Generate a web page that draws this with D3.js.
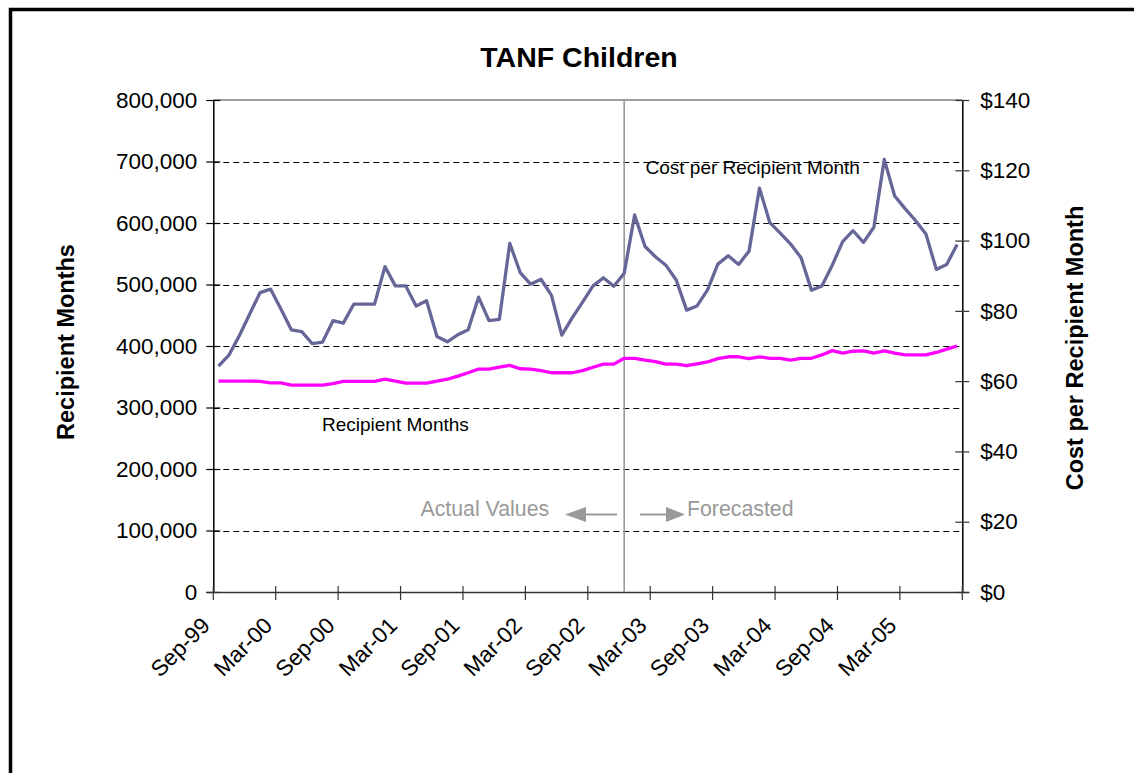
<!DOCTYPE html>
<html>
<head>
<meta charset="utf-8">
<script src="https://cdn.jsdelivr.net/npm/d3@7"></script>
<style>
  html, body { margin: 0; padding: 0; background: #fff; }
  svg { display: block; font-family: Arial, "Liberation Sans", sans-serif; }
</style>
</head>
<body>
<svg id="chart" width="1134" height="773"></svg>
<script>
// Monthly categories, Sep-99 through Aug-05
const months = [
  "Sep-99","Oct-99","Nov-99","Dec-99","Jan-00","Feb-00","Mar-00","Apr-00","May-00","Jun-00","Jul-00","Aug-00",
  "Sep-00","Oct-00","Nov-00","Dec-00","Jan-01","Feb-01","Mar-01","Apr-01","May-01","Jun-01","Jul-01","Aug-01",
  "Sep-01","Oct-01","Nov-01","Dec-01","Jan-02","Feb-02","Mar-02","Apr-02","May-02","Jun-02","Jul-02","Aug-02",
  "Sep-02","Oct-02","Nov-02","Dec-02","Jan-03","Feb-03","Mar-03","Apr-03","May-03","Jun-03","Jul-03","Aug-03",
  "Sep-03","Oct-03","Nov-03","Dec-03","Jan-04","Feb-04","Mar-04","Apr-04","May-04","Jun-04","Jul-04","Aug-04",
  "Sep-04","Oct-04","Nov-04","Dec-04","Jan-05","Feb-05","Mar-05","Apr-05","May-05","Jun-05","Jul-05","Aug-05"
];

// Recipient months (left axis)
const recipientMonths = [
  343000, 343000, 343000, 343000, 342500, 340000, 340000, 336500, 336500, 336500, 336500, 339000,
  342500, 342500, 342500, 342500, 346000, 343000, 339500, 339500, 339500, 343000, 346000, 351000,
  356500, 362500, 362500, 365500, 368500, 363000, 362500, 360000, 356500, 356500, 356500, 360000,
  365500, 370500, 370500, 380000, 380000, 377000, 374500, 370500, 370500, 368000, 371000, 374000,
  379500, 382500, 382500, 379500, 382500, 380000, 380000, 377000, 380000, 380000, 385500, 392500,
  388500, 391500, 392000, 388500, 392000, 388500, 385500, 385500, 385500, 389500, 395000, 400000
];

// Cost per recipient month in dollars (right axis)
const costPerMonth = [
  64.3, 67.4, 72.9, 79.1, 85.2, 86.2, 80.5, 74.6, 74.1, 70.7, 71.1, 77.2,
  76.5, 81.9, 81.9, 81.9, 92.6, 87.1, 87.1, 81.4, 82.9, 72.7, 71.2, 73.2,
  74.6, 83.9, 77.2, 77.6, 99.2, 90.9, 87.6, 89.0, 84.5, 73.1, 78.0, 82.5,
  87.1, 89.4, 87.0, 90.7, 107.3, 98.3, 95.4, 93.0, 88.8, 80.2, 81.4, 85.9,
  93.3, 95.7, 93.2, 97.0, 114.9, 105.1, 102.1, 99.0, 95.1, 85.9, 87.1, 93.0,
  99.7, 102.8, 99.5, 103.8, 123.1, 112.7, 109.1, 105.7, 101.9, 91.8, 93.2, 98.9
];

const leftTicks = [0, 100000, 200000, 300000, 400000, 500000, 600000, 700000, 800000];
const rightTicks = [0, 20, 40, 60, 80, 100, 120, 140];
const xTickLabels = ["Sep-99","Mar-00","Sep-00","Mar-01","Sep-01","Mar-02","Sep-02","Mar-03","Sep-03","Mar-04","Sep-04","Mar-05"];
const lastActualMonth = "Dec-02";

const svg = d3.select("#chart");
const plot = { left: 213.3, right: 962.3, top: 100, bottom: 592 };

const x = d3.scaleBand().domain(months).range([plot.left, plot.right]).paddingInner(0).paddingOuter(0);
const cx = m => x(m) + x.bandwidth() / 2;
const yL = d3.scaleLinear().domain([0, 800000]).range([plot.bottom, plot.top]);
const yR = d3.scaleLinear().domain([0, 140]).range([plot.bottom, plot.top]);

// Outer frame (top and left edges)
svg.append("path")
  .attr("d", `M10.5,773 V9.5 H1134`)
  .attr("fill", "none").attr("stroke", "#000").attr("stroke-width", 3.5);

// Title
svg.append("text").attr("x", 579).attr("y", 67)
  .attr("text-anchor", "middle").attr("font-weight", "bold").attr("font-size", 28.5)
  .text("TANF Children");

// Dashed gridlines
svg.append("g").selectAll("line")
  .data(leftTicks.filter(d => d > 0 && d < 800000))
  .join("line")
  .attr("x1", plot.left).attr("x2", plot.right)
  .attr("y1", d => Math.round(yL(d)) + 0.5).attr("y2", d => Math.round(yL(d)) + 0.5)
  .attr("stroke", "#000").attr("stroke-width", 1).attr("stroke-dasharray", "6,4");

// Plot top border
svg.append("line")
  .attr("x1", plot.left).attr("x2", plot.right)
  .attr("y1", plot.top).attr("y2", plot.top)
  .attr("stroke", "#808080").attr("stroke-width", 1.5);

// Left axis
const leftAxis = d3.axisLeft(yL).tickValues(leftTicks).tickFormat(d3.format(",")).tickSize(0).tickPadding(16);
const gL = svg.append("g").attr("transform", `translate(${plot.left},0)`).call(leftAxis);
gL.select(".domain").attr("stroke", "#000").attr("stroke-width", 1.5);
gL.selectAll(".tick text").attr("font-size", 22.5).attr("fill", "#000").attr("font-family", "Arial, 'Liberation Sans', sans-serif");
gL.selectAll(".tick").append("line").attr("x1", -7).attr("x2", 7).attr("stroke", "#000").attr("stroke-width", 1.2);

// Right axis
const rightAxis = d3.axisRight(yR).tickValues(rightTicks).tickFormat(d => "$" + d).tickSize(0).tickPadding(18);
const gR = svg.append("g").attr("transform", `translate(${plot.right},0)`).call(rightAxis);
gR.select(".domain").attr("stroke", "#000").attr("stroke-width", 1.5);
gR.selectAll(".tick text").attr("font-size", 22.5).attr("fill", "#000").attr("font-family", "Arial, 'Liberation Sans', sans-serif");
gR.selectAll(".tick").append("line").attr("x1", -7).attr("x2", 7).attr("stroke", "#333").attr("stroke-width", 1.2);

// Bottom axis with ticks every six months
const tickMonths = months.filter((m, i) => i % 6 === 0);
const gX = svg.append("g");
gX.append("line")
  .attr("x1", plot.left - 7).attr("x2", plot.right + 7)
  .attr("y1", plot.bottom + 0.5).attr("y2", plot.bottom + 0.5)
  .attr("stroke", "#333").attr("stroke-width", 1.5);
gX.selectAll("line.tk").data(tickMonths.concat(["__end"]))
  .join("line").attr("class", "tk")
  .attr("x1", d => d === "__end" ? plot.right : x(d))
  .attr("x2", d => d === "__end" ? plot.right : x(d))
  .attr("y1", plot.bottom - 6).attr("y2", plot.bottom + 8)
  .attr("stroke", "#333").attr("stroke-width", 1.2);
gX.selectAll("text").data(xTickLabels)
  .join("text")
  .attr("transform", d => `translate(${x(d) - 2},${627}) rotate(-45)`)
  .attr("text-anchor", "end").attr("font-size", 22.5)
  .text(d => d);

// Divider between actual and forecasted values
const xDiv = cx(lastActualMonth);
svg.append("line")
  .attr("x1", xDiv).attr("x2", xDiv).attr("y1", plot.top).attr("y2", plot.bottom)
  .attr("stroke", "#999").attr("stroke-width", 1.6);

// Series lines
const costLine = d3.line().x((d, i) => cx(months[i])).y(d => yR(d));
const recipLine = d3.line().x((d, i) => cx(months[i])).y(d => yL(d));

svg.append("path").datum(recipientMonths)
  .attr("d", recipLine).attr("fill", "none")
  .attr("stroke", "#FF00FF").attr("stroke-width", 3.3).attr("stroke-linejoin", "round");

svg.append("path").datum(costPerMonth)
  .attr("d", costLine).attr("fill", "none")
  .attr("stroke", "#666699").attr("stroke-width", 3.3).attr("stroke-linejoin", "round");

// Axis titles
svg.append("text")
  .attr("transform", "translate(74,342) rotate(-90)")
  .attr("text-anchor", "middle").attr("font-weight", "bold").attr("font-size", 23.5)
  .text("Recipient Months");
svg.append("text")
  .attr("transform", "translate(1083,348) rotate(-90)")
  .attr("text-anchor", "middle").attr("font-weight", "bold").attr("font-size", 23.5)
  .text("Cost per Recipient Month");

// Series labels
svg.append("text").attr("x", 645.5).attr("y", 174).attr("font-size", 19).text("Cost per Recipient Month");
svg.append("text").attr("x", 322).attr("y", 431).attr("font-size", 19).text("Recipient Months");

// Actual / forecast markers
const gray = "#999999";
svg.append("text").attr("x", 420.5).attr("y", 516).attr("font-size", 21.3).attr("fill", gray).text("Actual Values");
svg.append("text").attr("x", 687).attr("y", 516).attr("font-size", 21.3).attr("fill", gray).text("Forecasted");

const arrowY = 514.5;
svg.append("line").attr("x1", 584).attr("x2", 617).attr("y1", arrowY).attr("y2", arrowY)
  .attr("stroke", gray).attr("stroke-width", 2);
svg.append("path").attr("d", `M565,${arrowY} L586,${arrowY - 7.5} L586,${arrowY + 7.5} Z`).attr("fill", gray);
svg.append("line").attr("x1", 640).attr("x2", 668).attr("y1", arrowY).attr("y2", arrowY)
  .attr("stroke", gray).attr("stroke-width", 2);
svg.append("path").attr("d", `M685,${arrowY} L666,${arrowY - 7.5} L666,${arrowY + 7.5} Z`).attr("fill", gray);
</script>
</body>
</html>
